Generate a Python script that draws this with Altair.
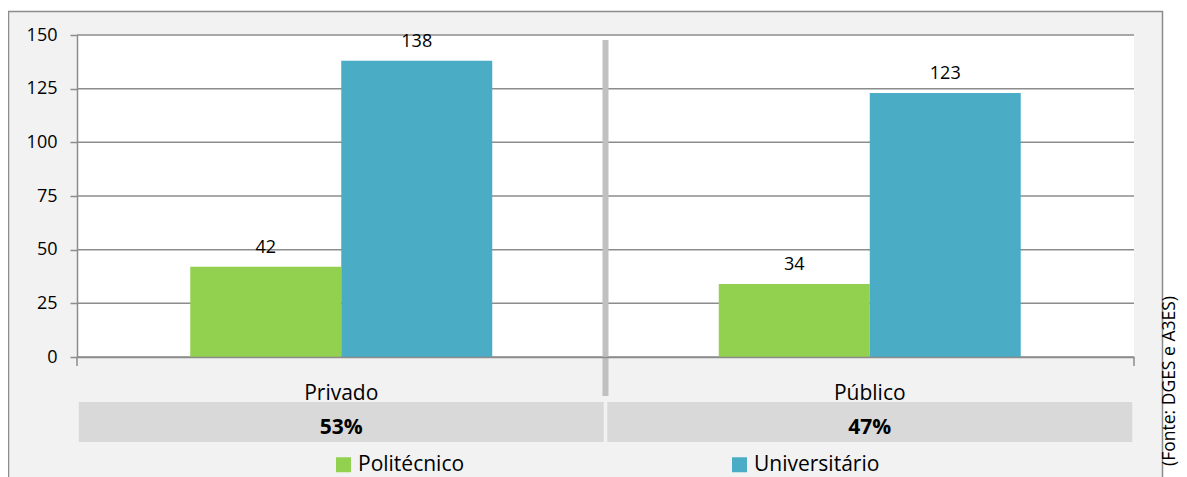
import altair as alt
import pandas as pd

# ---- data ----
categories = ["Privado", "Público"]
series = ["Politécnico", "Universitário"]
politecnico = [42, 34]
universitario = [138, 123]
shares = ["53%", "47%"]
y_ticks = [0, 25, 50, 75, 100, 125, 150]
source_note = "(Fonte: DGES e A3ES)"

rows = []
for i, c in enumerate(categories):
    rows.append({"cat": c, "serie": series[0], "valor": politecnico[i]})
    rows.append({"cat": c, "serie": series[1], "valor": universitario[i]})
df = pd.DataFrame(rows)
share_df = pd.DataFrame({"cat": categories, "share": shares})
grid_df = pd.DataFrame({"v": y_ticks})
one = pd.DataFrame({"a": [0]})

W, H = 1057, 322
FONT = "Open Sans"
GRID = "#8c8c8c"

xscale = alt.Scale(domain=categories, paddingInner=0.4286, paddingOuter=0.2143)
yscale = alt.Scale(domain=[0, 150], nice=False)
color_scale = alt.Scale(domain=series, range=["#92d050", "#4bacc6"])

yaxis = alt.Axis(values=y_ticks, grid=False, title=None, domain=True, domainColor=GRID,
                 domainWidth=1.5, ticks=True, tickSize=7, tickColor=GRID, tickWidth=1.5,
                 labelFontSize=18, labelFont=FONT, labelColor="#000000", labelPadding=13,
                 zindex=1)
xaxis = alt.Axis(title=None, labelAngle=0, labelFontSize=21, labelFont=FONT,
                 labelColor="#000000", labelPadding=25, ticks=False, domain=True,
                 domainColor=GRID, domainWidth=1.5, grid=False, zindex=1)

X = alt.X("cat:N", scale=xscale, sort=categories, axis=xaxis)

frame = alt.Chart(one).mark_rect(fill="#f2f2f2", stroke=GRID, strokeWidth=1.5).encode(
    x=alt.value(-68.5), x2=alt.value(1085.5), y=alt.value(-23.5), y2=alt.value(480))

plot_bg = alt.Chart(one).mark_rect(fill="white").encode(
    x=alt.value(0), x2=alt.value(W), y=alt.value(0), y2=alt.value(H))

grid = alt.Chart(grid_df).mark_rule(color=GRID, strokeWidth=1.5).encode(
    x=alt.value(0), x2=alt.value(W),
    y=alt.Y("v:Q", scale=yscale, axis=yaxis))

tick_left = alt.Chart(one).mark_rule(color=GRID, strokeWidth=1.5).encode(
    x=alt.value(0), y=alt.value(H), y2=alt.value(H + 9))
tick_right = alt.Chart(one).mark_rule(color=GRID, strokeWidth=1.5).encode(
    x=alt.value(W), y=alt.value(H), y2=alt.value(H + 9))

separator = alt.Chart(one).mark_rule(color="#c0c0c0", strokeWidth=6).encode(
    x=alt.value(W / 2), y=alt.value(5), y2=alt.value(361))

bars = alt.Chart(df).mark_bar().encode(
    x=X,
    xOffset=alt.XOffset("serie:N", scale=alt.Scale(domain=series), sort=series),
    y=alt.Y("valor:Q", scale=yscale, axis=yaxis),
    color=alt.Color("serie:N", scale=color_scale,
                    legend=alt.Legend(orient="none", legendX=256, legendY=419,
                                      direction="horizontal", title=None,
                                      symbolType="square", symbolSize=225,
                                      symbolStrokeWidth=0, labelFontSize=21,
                                      labelFont=FONT, labelColor="#000000",
                                      columnPadding=264, labelOffset=4, padding=0)),
)

labels = alt.Chart(df).mark_text(dy=-14, baseline="alphabetic", fontSize=18, font=FONT,
                                 color="#000000").encode(
    x=X,
    xOffset=alt.XOffset("serie:N", scale=alt.Scale(domain=series), sort=series),
    y=alt.Y("valor:Q", scale=yscale, axis=yaxis),
    text="valor:Q",
)

share_box = alt.Chart(share_df).mark_bar(width=525, color="#d9d9d9").encode(
    x=X, y=alt.value(367), y2=alt.value(407))

share_text = alt.Chart(share_df).mark_text(fontSize=21, fontWeight="bold", font=FONT,
                                           color="#000000", baseline="middle").encode(
    x=X, y=alt.value(393), text="share:N")

note = alt.Chart(one).mark_text(angle=270, fontSize=17.5, font=FONT, color="#000000",
                                align="center", baseline="middle").encode(
    x=alt.value(1093), y=alt.value(346), text=alt.value(source_note))

chart = alt.layer(frame, plot_bg, grid, tick_left, tick_right, separator, share_box,
                  share_text, bars, labels, note).properties(
    width=W, height=H,
    autosize=alt.AutoSizeParams(type="none"),
    padding={"left": 69, "top": 27, "right": 45, "bottom": 120},
).configure(font=FONT, background="white").configure_view(stroke=None)

chart.save("out.html", embed_options={"renderer": "svg", "actions": False})
